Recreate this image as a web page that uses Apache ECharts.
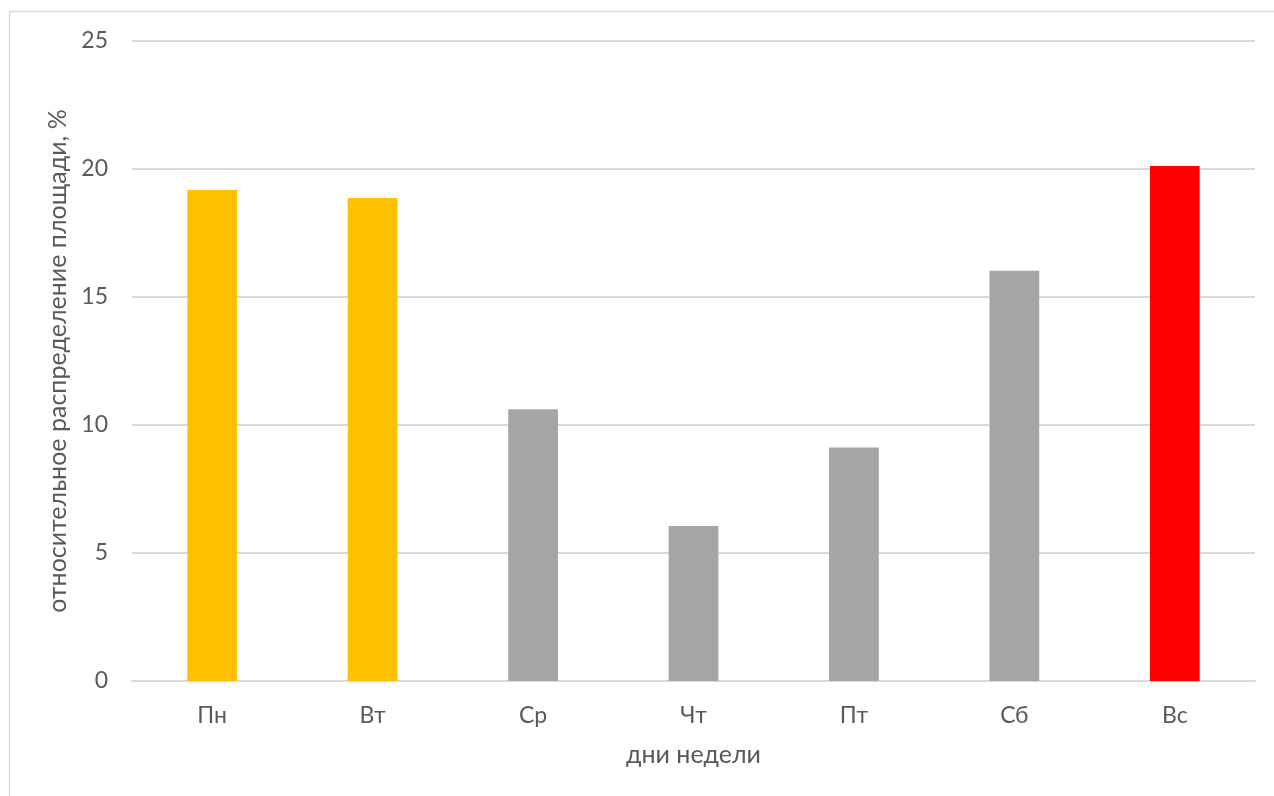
<!DOCTYPE html>
<html>
<head>
<meta charset="utf-8">
<script src="https://cdn.jsdelivr.net/npm/echarts@6/dist/echarts.min.js"></script>
<style>
  html, body { margin: 0; padding: 0; background: #ffffff; }
  #chart { width: 1274px; height: 796px; }
</style>
</head>
<body>
<div id="chart"></div>
<script>
// Days of the week and the relative share of area for each day, %
const days = ['Пн', 'Вт', 'Ср', 'Чт', 'Пт', 'Сб', 'Вс'];
const shares = [19.18, 18.87, 10.62, 6.05, 9.12, 16.03, 20.12];
// Colour group per day: working-day highlight, ordinary, maximum
const groups = ['hi', 'hi', 'base', 'base', 'base', 'base', 'max'];
const yTicks = [0, 5, 10, 15, 20, 25];

const palette = { hi: '#FFC000', base: '#A5A5A5', max: '#FF0000' };
const textColor = '#595959';
const fontFamily = 'Lato, "Open Sans", sans-serif';

const chart = echarts.init(document.getElementById('chart'), null, { renderer: 'canvas' });

chart.setOption({
  backgroundColor: '#ffffff',
  animation: false,
  textStyle: { fontFamily: fontFamily, color: textColor },
  graphic: [{
    type: 'rect',
    left: 7, top: 9,
    shape: { width: 1400, height: 900 },
    style: { fill: 'none', stroke: '#d9d9d9', lineWidth: 1.5 },
    silent: true
  }],
  grid: { left: 132, right: 19, top: 41, bottom: 115 },
  xAxis: {
    type: 'category',
    data: days,
    name: 'дни недели',
    nameLocation: 'middle',
    nameGap: 61,
    nameTextStyle: { fontSize: 25, color: textColor, fontFamily: fontFamily },
    axisLine: { show: true, lineStyle: { color: '#d9d9d9', width: 2 } },
    axisTick: { show: false },
    axisLabel: { fontSize: 23, color: textColor, margin: 23, fontFamily: fontFamily }
  },
  yAxis: {
    type: 'value',
    min: yTicks[0],
    max: yTicks[yTicks.length - 1],
    interval: yTicks[1] - yTicks[0],
    name: 'относительное распределение площади, %',
    nameLocation: 'middle',
    nameRotate: 90,
    nameGap: 60,
    nameTextStyle: { fontSize: 25, color: textColor, fontFamily: fontFamily },
    axisLine: { show: false },
    axisTick: { show: false },
    axisLabel: { fontSize: 23, color: textColor, margin: 24, fontFamily: fontFamily },
    splitLine: { show: true, lineStyle: { color: '#d9d9d9', width: 2 } }
  },
  series: [{
    type: 'bar',
    barWidth: '31%',
    data: shares.map((v, i) => ({ value: v, itemStyle: { color: palette[groups[i]] } }))
  }]
});
</script>
</body>
</html>
